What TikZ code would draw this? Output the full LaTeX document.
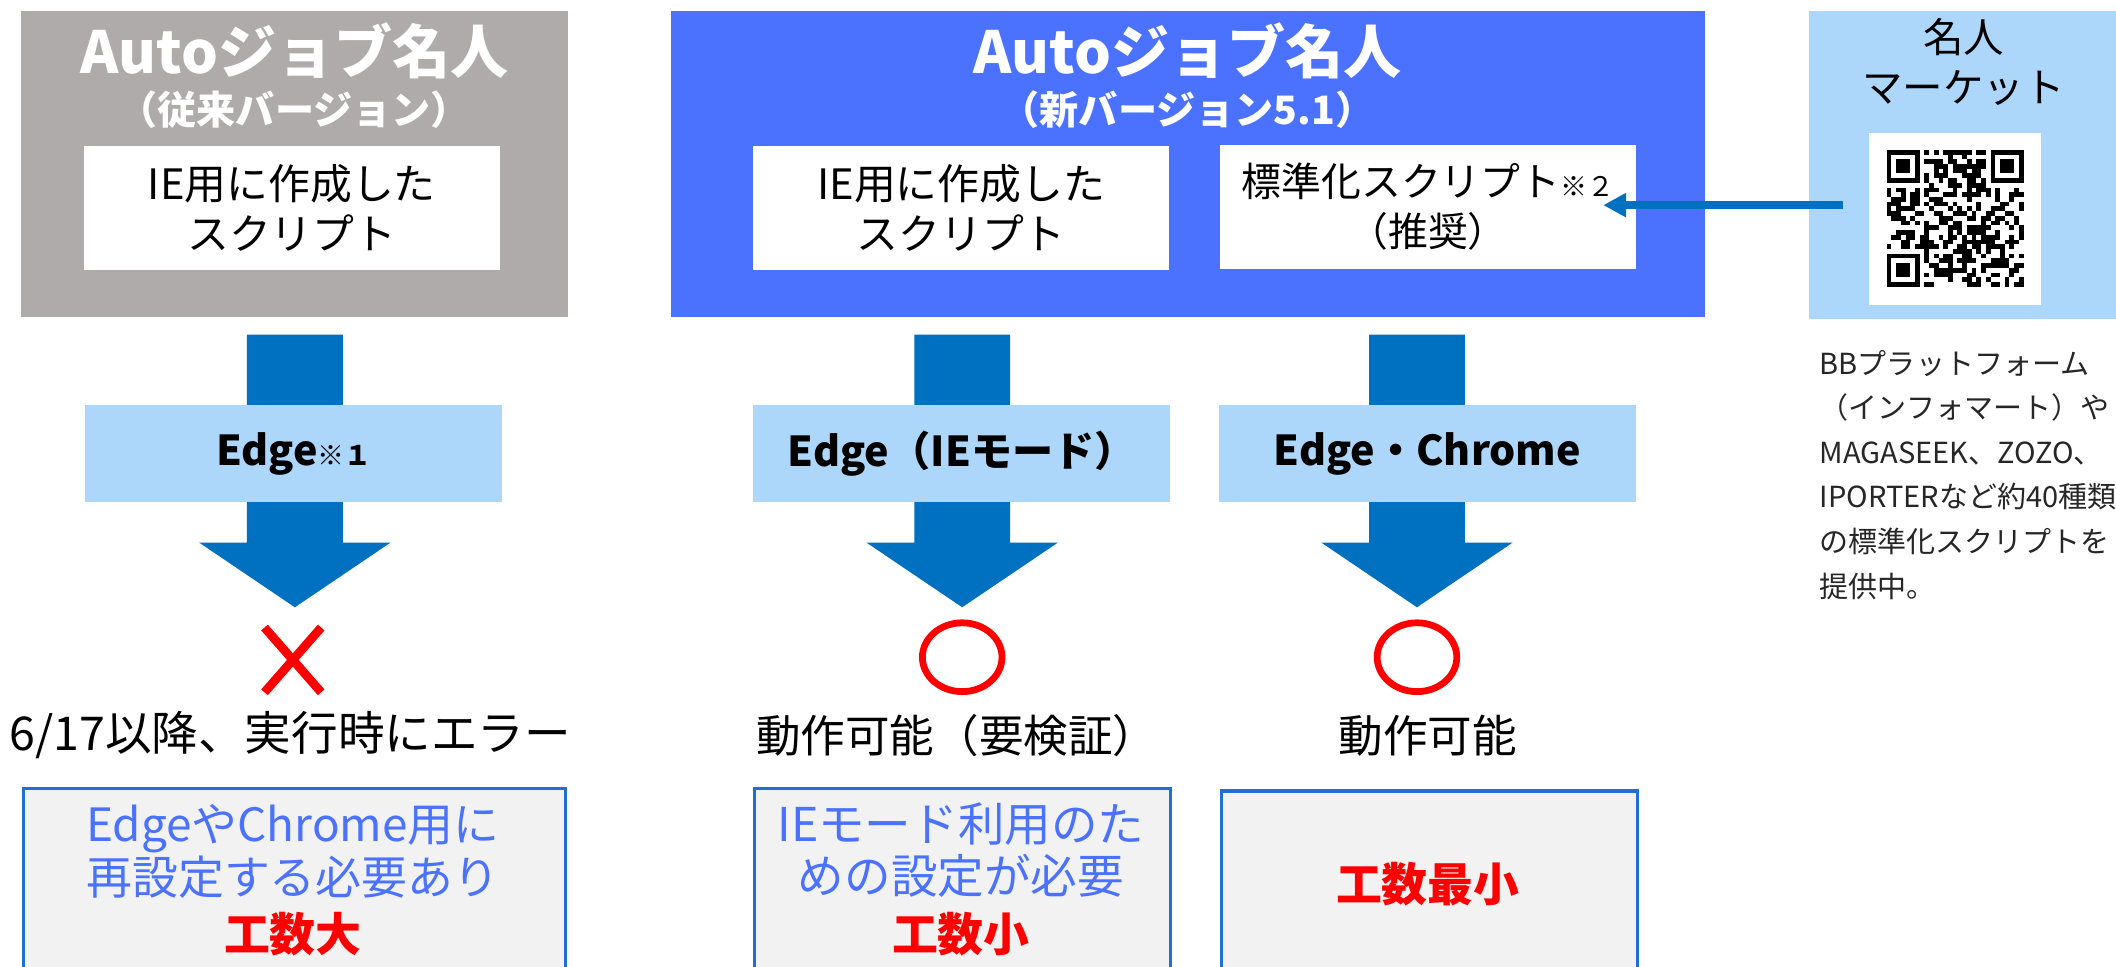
\documentclass[tikz,border=0pt]{standalone}
\usepackage{fontspec}
\setmainfont{Noto Sans CJK JP}
\usetikzlibrary{arrows.meta}
\definecolor{oldgray}{HTML}{AEABAA}
\definecolor{newblue}{HTML}{4A72FF}
\definecolor{lightblue}{HTML}{ADD7FA}
\definecolor{arrowblue}{HTML}{0070C0}
\definecolor{bordblue}{HTML}{1F6FD6}
\definecolor{panelgray}{HTML}{F2F2F2}
\definecolor{xred}{HTML}{FF0000}
\newcommand{\fs}[2]{\fontsize{#1}{#2}\selectfont}
\begin{document}
\begin{tikzpicture}[x=1pt,y=-1pt,
  panel/.style={inner sep=0pt, anchor=north west},
  title/.style={text=white, font=\bfseries\fs{43}{50}},
  subtitle/.style={text=white, font=\bfseries\fs{29}{34}},
  whitebox/.style={fill=white, inner sep=0pt, minimum width=308pt, minimum height=92pt, align=center, font=\fs{31}{37}, anchor=north west},
  edgebox/.style={fill=lightblue, inner sep=0pt, minimum width=309pt, minimum height=72pt, font=\bfseries\fs{30.5}{36}, anchor=north west},
  resultbox/.style={draw=bordblue, line width=2.5pt, fill=panelgray, inner sep=0pt, minimum height=140pt, anchor=north west},
  resulttext/.style={align=center, text=newblue, font=\fs{34}{39}},
  effort/.style={text=xred, font=\bfseries\fs{34}{39}},
  status/.style={font=\fs{33}{40}},
  okmark/.style={draw=xred, line width=5pt},
  bigarrow/.pic={\fill[arrowblue] (-35.5,0) -- (35.5,0) -- (35.5,154) -- (71,154) -- (0,202) -- (-71,154) -- (-35.5,154) -- cycle;}
]
\useasboundingbox (0,0) rectangle (1568,716);

% ---------- top panels ----------
\node[panel, fill=oldgray, minimum width=406pt, minimum height=227pt] (old) at (15,8) {};
\node[title] (oldtitle) at (218,38) {Autoジョブ名人};
\node[subtitle] (oldsub) at (218,81) {（従来バージョン）};
\node[whitebox] (oldscript) at (62,108) {IE用に作成した\\スクリプト};

\node[panel, fill=newblue, minimum width=766pt, minimum height=227pt] (new) at (497,8) {};
\node[title] (newtitle) at (880,38) {Autoジョブ名人};
\node[subtitle] (newsub) at (880,81) {（新バージョン5.1）};
\node[whitebox] (newscript) at (558,108) {IE用に作成した\\スクリプト};
\node[whitebox, font=\fs{29.5}{37}] (stdscript) at (904,107) {標準化スクリプト{\fs{20}{20}※２}\\（推奨）};

\node[panel, fill=lightblue, minimum width=230pt, minimum height=228pt] (market) at (1340,8) {};
\node[align=center, font=\fs{30}{37}] (markettitle) at (1455,46) {名人\\マーケット};

% QR code
\node[panel, fill=white, minimum width=127pt, minimum height=128pt] (qr) at (1385,98) {};
\begin{scope}[shift={(1398,111)}]
  \pgfmathsetseed{2718}
  \foreach \i in {0,...,28}{
    \foreach \j in {0,...,28}{
      \pgfmathrandominteger{\r}{0}{1}
      \ifnum\r=1 \fill[black] (\i*3.5,\j*3.5) rectangle ++(3.5,3.5);\fi
    }
  }
  \foreach \a/\b in {0/0,21/0,0/21}{
    \fill[white] (\a*3.5,\b*3.5) rectangle ++(8*3.5,8*3.5);
  }
  \foreach \a/\b in {0/0,22/0,0/22}{
    \fill[black] (\a*3.5,\b*3.5) rectangle ++(7*3.5,7*3.5);
    \fill[white] (\a*3.5+3.5,\b*3.5+3.5) rectangle ++(5*3.5,5*3.5);
    \fill[black] (\a*3.5+7,\b*3.5+7) rectangle ++(3*3.5,3*3.5);
  }
\end{scope}

\coordinate (qrarrowstart) at (1366,152);
\coordinate (qrarrowend) at (1188,152);
\draw[arrowblue, line width=6pt, -{Triangle[length=17pt,width=17pt]}] (qrarrowstart) -- (qrarrowend);

\node[anchor=north west, align=left, text=black!85, font=\fs{21.5}{33}] (desc) at (1345,256)
  {BBプラットフォーム\\（インフォマート）や\\MAGASEEK、ZOZO、\\IPORTERなど約40種類\\の標準化スクリプトを\\提供中。};

% ---------- arrows and browser boxes ----------
\pic at (218.5,248) {bigarrow};
\pic at (713,248) {bigarrow};
\pic at (1050,248) {bigarrow};

\node[edgebox] (edge1) at (63,300) {Edge{\fs{20}{20}※１}};
\node[edgebox] (edge2) at (558,300) {Edge（IEモード）};
\node[edgebox] (edge3) at (903,300) {Edge・Chrome};

% ---------- status marks ----------
\draw[xred, line width=6.5pt] (196,465) -- (238,513);
\draw[xred, line width=6.5pt] (238,465) -- (196,513);
\draw[okmark] (713,487) ellipse [x radius=29.5pt, y radius=25.5pt];
\draw[okmark] (1050,487) ellipse [x radius=29.5pt, y radius=25.5pt];

\node[status, font=\fs{34.5}{40}] (st1) at (215,545) {6/17以降、実行時にエラー};
\node[status] (st2) at (709,545) {動作可能（要検証）};
\node[status] (st3) at (1058,545) {動作可能};

% ---------- result boxes ----------
\node[resultbox, minimum width=402pt] (res1) at (16,583) {};
\node[resultbox, minimum width=308pt] (res2) at (558,583) {};
\node[resultbox, minimum width=308pt] (res3) at (904,585) {};

\node[resulttext] (res1t) at (217,631) {EdgeやChrome用に\\再設定する必要あり};
\node[effort] (res1e) at (217,692) {工数大};
\node[resulttext, font=\fs{34.5}{39}] (res2t) at (712,630) {IEモード利用のた\\めの設定が必要};
\node[effort] (res2e) at (712,692) {工数小};
\node[effort] (res3e) at (1058,655) {工数最小};
\end{tikzpicture}
\end{document}
